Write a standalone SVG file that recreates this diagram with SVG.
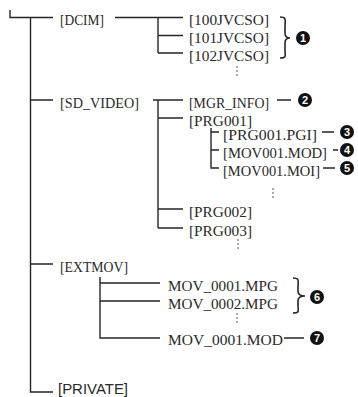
<svg xmlns="http://www.w3.org/2000/svg" width="358" height="397" viewBox="0 0 358 397">
<style>
.ln{stroke:#262626;stroke-width:1.4;fill:none}
.t{font-family:"Liberation Serif","Times New Roman",serif;font-size:15px;fill:#2a2a2a}
.ts{font-family:"Liberation Sans",Arial,sans-serif;font-size:14px;fill:#2a2a2a}
.dot{fill:#444}
.br{stroke:#262626;stroke-width:1.6;fill:none}
.c{fill:#111}
.n{font-family:"Liberation Sans",Arial,sans-serif;font-size:11px;font-weight:bold;fill:#fff;text-anchor:middle}
</style>
<defs>
<g id="dots"><circle cx="0" cy="0" r="0.8"/><circle cx="0" cy="4" r="0.8"/><circle cx="0" cy="8" r="0.8"/></g>
</defs>
<g id="connectors">
<path class="ln" d="M10 10V17.5H53M30.5 17.5V392H53"/>
<path class="ln" d="M30.5 100H53M30.5 264H53"/>
<path class="ln" d="M115 17.5H183M158 17.5V53M158 35.5H183M158 53H183"/>
<path class="ln" d="M153 100H183M158 100V228M158 118H183M158 209H183M158 228H183"/>
<path class="ln" d="M211 128V168H219M211 132H219M211 150H219"/>
<path class="ln" d="M100 277V338H160M100 283H160M100 301H160"/>
<path class="ln" d="M277 100H291M322 132H334M333 150H338M323 168H335M284 338H304"/>
<path class="br" d="M280 17C287 17 285 20 285 27V33C285 36 287 38 290 38C287 38 285 40 285 43V50C285 56 287 58 280 58"/>
<path class="br" d="M293 278C300 278 298 281 298 287V291C298 294 300 296 305 296C300 296 298 298 298 301V305C298 311 300 313 293 313"/>
</g>
<g id="root"><text class="t" x="60" y="25" textLength="44" lengthAdjust="spacingAndGlyphs">[DCIM]</text></g>
<g id="n100"><text class="t" x="189" y="25" textLength="80" lengthAdjust="spacingAndGlyphs">[100JVCSO]</text></g>
<g id="n101"><text class="t" x="189" y="43" textLength="80" lengthAdjust="spacingAndGlyphs">[101JVCSO]</text></g>
<g id="n102"><text class="t" x="189" y="61" textLength="80" lengthAdjust="spacingAndGlyphs">[102JVCSO]</text></g>
<use href="#dots" class="dot" x="237" y="67"/>
<g id="c1"><circle class="c" cx="303" cy="38" r="7"/><text class="n" x="303" y="42">1</text></g>
<g id="sdvideo"><text class="t" x="60" y="107.5" textLength="79" lengthAdjust="spacingAndGlyphs">[SD_VIDEO]</text></g>
<g id="mgr"><text class="t" x="189" y="107.5" textLength="80" lengthAdjust="spacingAndGlyphs">[MGR_INFO]</text></g>
<g id="c2"><circle class="c" cx="305" cy="100" r="7"/><text class="n" x="305" y="104">2</text></g>
<g id="prg001"><text class="t" x="189" y="125.5" textLength="63" lengthAdjust="spacingAndGlyphs">[PRG001]</text></g>
<g id="pgi"><text class="t" x="223" y="139.5" textLength="94" lengthAdjust="spacingAndGlyphs">[PRG001.PGI]</text></g>
<g id="mod"><text class="t" x="223" y="157.5" textLength="104" lengthAdjust="spacingAndGlyphs">[MOV001.MOD]</text></g>
<g id="moi"><text class="t" x="223" y="175.5" textLength="97" lengthAdjust="spacingAndGlyphs">[MOV001.MOI]</text></g>
<g id="c3"><circle class="c" cx="347" cy="132" r="7"/><text class="n" x="347" y="136">3</text></g>
<g id="c4"><circle class="c" cx="347" cy="150" r="7"/><text class="n" x="347" y="154">4</text></g>
<g id="c5"><circle class="c" cx="347" cy="168" r="7"/><text class="n" x="347" y="172">5</text></g>
<use href="#dots" class="dot" x="273" y="189"/>
<g id="prg002"><text class="t" x="189" y="216.5" textLength="63" lengthAdjust="spacingAndGlyphs">[PRG002]</text></g>
<g id="prg003"><text class="t" x="189" y="235.5" textLength="63" lengthAdjust="spacingAndGlyphs">[PRG003]</text></g>
<use href="#dots" class="dot" x="238" y="240"/>
<g id="extmov"><text class="t" x="60" y="271.5" textLength="68" lengthAdjust="spacingAndGlyphs">[EXTMOV]</text></g>
<g id="mpg1"><text class="t" x="168" y="290.5" textLength="110" lengthAdjust="spacingAndGlyphs">MOV_0001.MPG</text></g>
<g id="mpg2"><text class="t" x="168" y="308.5" textLength="110" lengthAdjust="spacingAndGlyphs">MOV_0002.MPG</text></g>
<use href="#dots" class="dot" x="237" y="314"/>
<g id="c6"><circle class="c" cx="317" cy="297" r="7"/><text class="n" x="317" y="301">6</text></g>
<g id="mod2"><text class="t" x="168" y="345" textLength="115" lengthAdjust="spacingAndGlyphs">MOV_0001.MOD</text></g>
<g id="c7"><circle class="c" cx="317" cy="338" r="7"/><text class="n" x="317" y="342">7</text></g>
<g id="private"><text class="ts" x="58" y="394" textLength="70" lengthAdjust="spacingAndGlyphs">[PRIVATE]</text></g>
</svg>
